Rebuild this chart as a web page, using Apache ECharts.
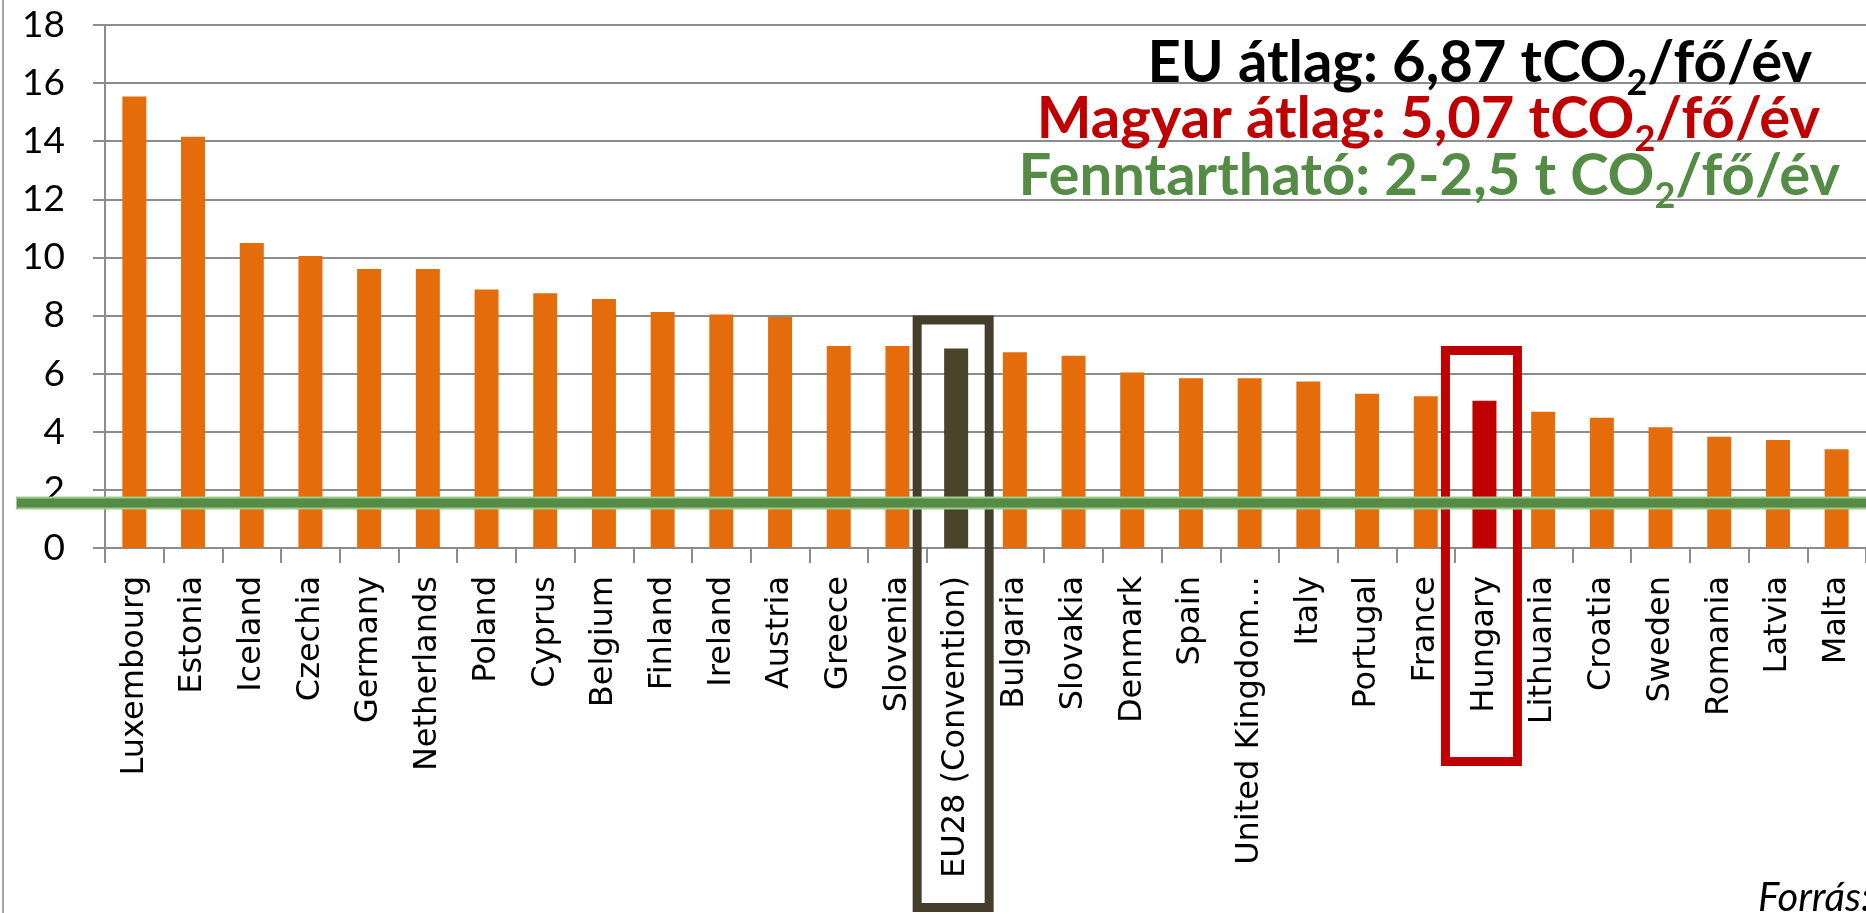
<!DOCTYPE html>
<html>
<head>
<meta charset="utf-8">
<script src="https://cdn.jsdelivr.net/npm/echarts@6/dist/echarts.min.js"></script>
<style>
html, body { margin: 0; padding: 0; background: #ffffff; }
#chart { width: 1866px; height: 913px; }
</style>
</head>
<body>
<div id="chart"></div>
<script>
// t CO2 / fő / év, országonként
const countries = [
  'Luxembourg', 'Estonia', 'Iceland', 'Czechia', 'Germany', 'Netherlands',
  'Poland', 'Cyprus', 'Belgium', 'Finland', 'Ireland', 'Austria', 'Greece',
  'Slovenia', 'EU28 (Convention)', 'Bulgaria', 'Slovakia', 'Denmark', 'Spain',
  'United Kingdom…', 'Italy', 'Portugal', 'France', 'Hungary', 'Lithuania',
  'Croatia', 'Sweden', 'Romania', 'Latvia', 'Malta'
]
const emissions = [
  15.54, 14.15, 10.5, 10.05, 9.6, 9.6,
  8.9, 8.77, 8.57, 8.12, 8.04, 7.95, 6.95,
  6.95, 6.87, 6.74, 6.62, 6.04, 5.84,
  5.84, 5.73, 5.31, 5.22, 5.07, 4.69,
  4.48, 4.16, 3.83, 3.72, 3.4
]
const yMin = 0
const yMax = 18
const yStep = 2

const euName = 'EU28 (Convention)'
const huName = 'Hungary'
const sustainLevel = 1.55 // zöld vonal
const euBoxTop = 8
const huBoxTop = 6.95

const ORANGE = '#E46C0A'
const EU_COLOR = '#4A442A'
const HU_COLOR = '#C00000'
const GREEN = '#558B45'
const GRID_GRAY = '#8c8c8c'

const chart = echarts.init(document.getElementById('chart'))

const barData = countries.map((name, i) => {
  if (name === euName) {
    return { value: emissions[i], itemStyle: { color: EU_COLOR, borderColor: EU_COLOR, borderWidth: 3 } }
  }
  if (name === huName) {
    return { value: emissions[i], itemStyle: { color: HU_COLOR, borderColor: HU_COLOR, borderWidth: 3 } }
  }
  return emissions[i]
})

const option = {
  animation: false,
  backgroundColor: '#ffffff',
  grid: {
    left: 105,
    top: 25,
    bottom: 365,
    width: 1767
  },
  xAxis: {
    type: 'category',
    data: countries,
    axisLine: { lineStyle: { color: GRID_GRAY, width: 2 } },
    axisTick: { show: true, length: 15, interval: 0, lineStyle: { color: GRID_GRAY, width: 2 } },
    axisLabel: {
      interval: 0,
      rotate: 90,
      margin: 28,
      fontSize: 32,
      fontFamily: 'DejaVu Sans',
      color: '#000000'
    }
  },
  yAxis: {
    type: 'value',
    min: yMin,
    max: yMax,
    interval: yStep,
    axisLine: { show: true, lineStyle: { color: GRID_GRAY, width: 2 } },
    axisTick: { show: true, length: 12, lineStyle: { color: GRID_GRAY, width: 2 } },
    splitLine: { lineStyle: { color: GRID_GRAY, width: 2 } },
    axisLabel: {
      margin: 40,
      fontSize: 37,
      fontFamily: 'Lato',
      color: '#000000'
    }
  },
  series: [
    {
      type: 'bar',
      data: barData,
      barWidth: 24,
      itemStyle: { color: ORANGE }
    }
  ]
}

chart.setOption(option)

// annotációk a tengelyek skáláiból
const toPx = (cat, val) => chart.convertToPixel({ seriesIndex: 0 }, [cat, val])

function boxAround(name, topValue, bottomY, color) {
  const p = toPx(name, topValue)
  const lw = 9
  const outerW = 81
  const left = p[0] - 3 - outerW / 2
  return {
    type: 'rect',
    z: 100,
    shape: {
      x: left + lw / 2,
      y: p[1] + lw / 2,
      width: outerW - lw,
      height: bottomY - p[1] - lw
    },
    style: { fill: null, stroke: color, lineWidth: lw }
  }
}

// a "2" alsó index külön szövegként, szélességet canvas méri
const measureCtx = document.createElement('canvas').getContext('2d')
const MAIN_FONT = 58
const SUB_FONT = 36
function textWidth(str, size) {
  measureCtx.font = 'bold ' + size + 'px Lato'
  return measureCtx.measureText(str).width
}

function noteText(right, bottom, pre, sub, post, color) {
  const wPost = textWidth(post, MAIN_FONT)
  const wSub = textWidth(sub, SUB_FONT)
  const base = { fontWeight: 'bold', fontFamily: 'Lato', fill: color, align: 'right', verticalAlign: 'bottom' }
  return [
    { type: 'text', z: 120, x: right, y: bottom, style: Object.assign({ text: post, fontSize: MAIN_FONT }, base) },
    { type: 'text', z: 120, x: right - wPost, y: bottom + 9, style: Object.assign({ text: sub, fontSize: SUB_FONT }, base) },
    { type: 'text', z: 120, x: right - wPost - wSub, y: bottom, style: Object.assign({ text: pre, fontSize: MAIN_FONT }, base) }
  ]
}

const greenY = toPx(0, sustainLevel)[1]

chart.setOption({
  graphic: [
    {
      type: 'line',
      z: 90,
      shape: { x1: 3, y1: 0, x2: 3, y2: 913 },
      style: { stroke: '#a6a6a6', lineWidth: 2 }
    },
    boxAround(euName, euBoxTop, 912, '#463E2C'),
    boxAround(huName, huBoxTop, 766, HU_COLOR),
    {
      type: 'line',
      z: 110,
      shape: { x1: 16, y1: greenY, x2: 1866, y2: greenY },
      style: { stroke: '#9CCB8C', lineWidth: 13 }
    },
    {
      type: 'line',
      z: 111,
      shape: { x1: 17, y1: greenY, x2: 1866, y2: greenY },
      style: { stroke: GREEN, lineWidth: 9 }
    },
    ...noteText(1812, 92, 'EU átlag: 6,87 tCO', '2', '/fő/év', '#000000'),
    ...noteText(1820, 148, 'Magyar átlag: 5,07 tCO', '2', '/fő/év', HU_COLOR),
    ...noteText(1840, 205, 'Fenntartható: 2-2,5 t CO', '2', '/fő/év', '#548B45'),
    {
      type: 'text',
      z: 120,
      x: 1758,
      y: 878,
      style: {
        text: 'Forrás:',
        fontSize: 40,
        fontStyle: 'italic',
        fontFamily: 'Lato',
        fill: '#000000'
      }
    }
  ]
})
</script>
</body>
</html>
